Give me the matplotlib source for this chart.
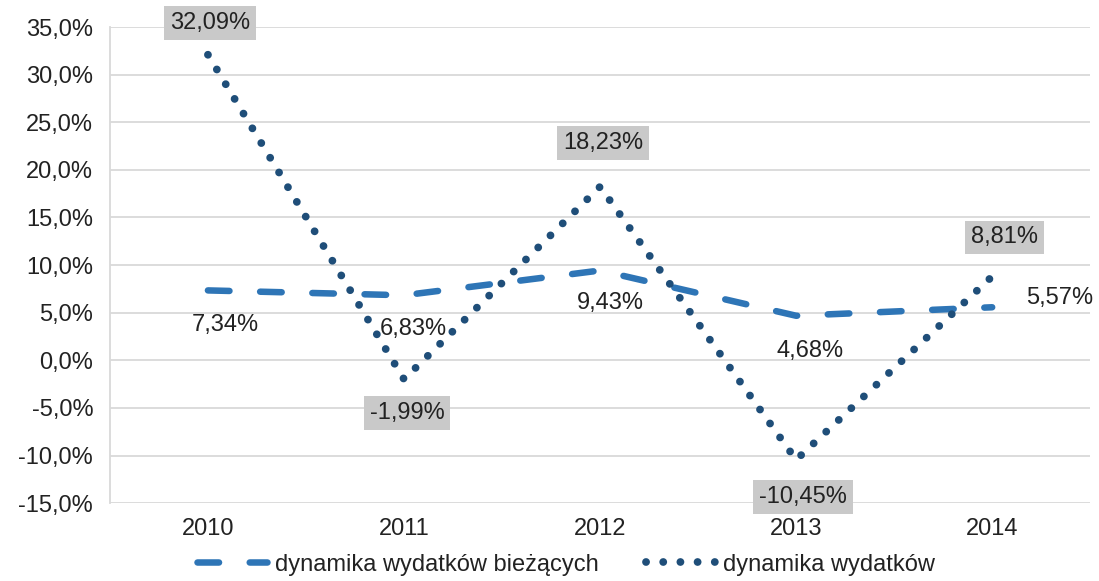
import matplotlib
matplotlib.use("Agg")
import matplotlib.pyplot as plt
from matplotlib.lines import Line2D

plt.rcParams['font.family'] = ['Liberation Sans', 'DejaVu Sans']

years = ['2010', '2011', '2012', '2013', '2014']
biezace = [7.34, 6.83, 9.43, 4.68, 5.57]
wydatki = [32.09, -1.99, 18.23, -10.45, 8.81]
biezace_labels = ['7,34%', '6,83%', '9,43%', '4,68%', '5,57%']
wydatki_labels = ['32,09%', '-1,99%', '18,23%', '-10,45%', '8,81%']
yticks = [-15, -10, -5, 0, 5, 10, 15, 20, 25, 30, 35]
ytick_labels = ['-15,0%', '-10,0%', '-5,0%', '0,0%', '5,0%', '10,0%', '15,0%',
                '20,0%', '25,0%', '30,0%', '35,0%']

c_dash = '#2E75B6'
c_dot = '#1F4E79'
txt = '#222222'
fs = 17

fig = plt.figure(figsize=(10.99, 5.81), dpi=100)
ax = fig.add_axes([0.100, 0.134, 0.892, 0.8195])

x = [i + 0.5 for i in range(len(years))]

lw_d = 4.7
dash_pat = (0, (3.3, 4.7))
ax.plot(x, biezace, color=c_dash, lw=lw_d, linestyle=dash_pat,
        dash_capstyle='round', solid_capstyle='round', zorder=3)
lw_o = 5.6
dot_pat = (0, (0.01, 2.2))
ax.plot(x, wydatki, color=c_dot, lw=lw_o, linestyle=dot_pat,
        dash_capstyle='round', zorder=4)

ax.set_xlim(0, 5)
ax.set_ylim(-15, 35)
ax.set_yticks(yticks)
ax.set_yticklabels(ytick_labels)
ax.set_xticks(x)
ax.set_xticklabels(years)
ax.tick_params(axis='both', length=0, labelsize=fs, colors=txt)
ax.tick_params(axis='y', pad=12)
ax.tick_params(axis='x', pad=11)
ax.yaxis.grid(True, color='#D9D9D9', lw=1.3)
ax.set_axisbelow(True)
for s in ['top', 'right', 'bottom']:
    ax.spines[s].set_visible(False)
ax.spines['left'].set_color('#D9D9D9')
ax.spines['left'].set_linewidth(1.3)

# data labels (pixel offsets)
px = 0.72
dot_off = [(2, 32), (3, -34), (3, 44), (7, -37), (12, 39)]
for xi, v, lab, (dx, dy) in zip(x, wydatki, wydatki_labels, dot_off):
    ax.annotate(lab, (xi, v), xytext=(dx * px, dy * px), textcoords='offset points',
                ha='center', va='center', fontsize=fs, color=txt, zorder=6,
                bbox=dict(boxstyle='square,pad=0.25', fc='#C9C9C9', ec='none'))
dash_off = [(17, -35), (9, -34), (10, -32), (14, -35), (67, 9)]
for xi, v, lab, (dx, dy) in zip(x, biezace, biezace_labels, dash_off):
    ax.annotate(lab, (xi, v), xytext=(dx * px, dy * px), textcoords='offset points',
                ha='center', va='center', fontsize=fs, color=txt, zorder=6)

handles = [Line2D([], [], color=c_dash, lw=lw_d, linestyle=dash_pat,
                  dash_capstyle='round'),
           Line2D([], [], color=c_dot, lw=lw_o, linestyle=dot_pat,
                  dash_capstyle='round')]
fig.legend(handles, ['dynamika wydatków bieżących', 'dynamika wydatków'],
           loc='center', bbox_to_anchor=(0.515, 0.028), ncol=2, frameon=False,
           fontsize=fs, handlelength=3.0, handletextpad=0.3, columnspacing=2.0,
           labelcolor=txt, borderpad=0.2)

fig.savefig('out.png', dpi=100)
